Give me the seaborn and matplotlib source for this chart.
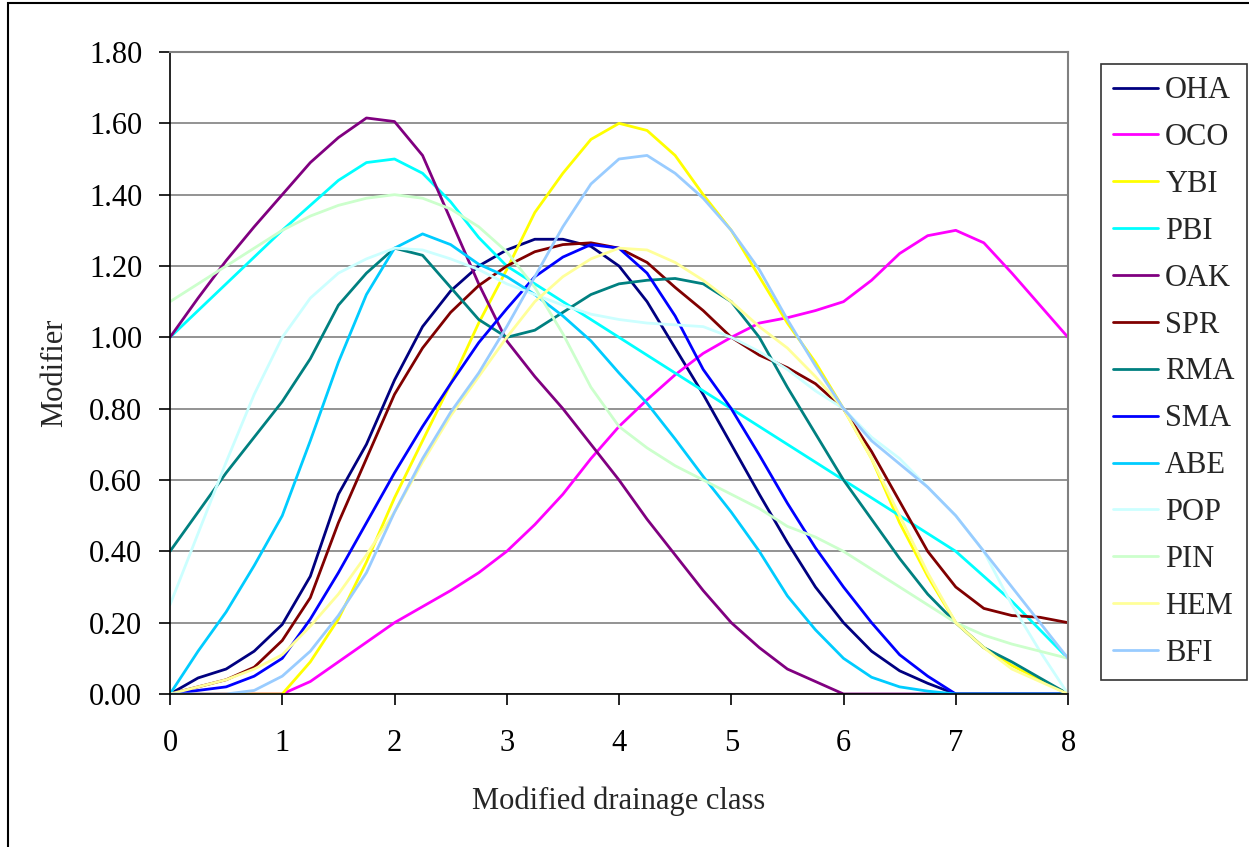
import numpy as np
import pandas as pd
import matplotlib
matplotlib.use("Agg")
import matplotlib.pyplot as plt
import seaborn as sns
from matplotlib.patches import Rectangle

x = [0, 0.25, 0.5, 0.75, 1, 1.25, 1.5, 1.75, 2, 2.25, 2.5, 2.75, 3, 3.25, 3.5, 3.75,
     4, 4.25, 4.5, 4.75, 5, 5.25, 5.5, 5.75, 6, 6.25, 6.5, 6.75, 7, 7.25, 7.5, 7.75, 8]

OHA = [0, 0.045, 0.07, 0.12, 0.195, 0.33, 0.56, 0.70, 0.88, 1.03, 1.13, 1.20, 1.245, 1.275, 1.275, 1.255,
       1.20, 1.10, 0.97, 0.84, 0.70, 0.56, 0.425, 0.30, 0.20, 0.12, 0.065, 0.03, 0, 0, 0, 0, 0]
OCO = [0, 0, 0, 0, 0, 0.035, 0.09, 0.145, 0.20, 0.245, 0.29, 0.34, 0.40, 0.475, 0.56, 0.66,
       0.75, 0.825, 0.895, 0.955, 1.00, 1.04, 1.055, 1.075, 1.10, 1.16, 1.235, 1.285, 1.30, 1.265, 1.18, 1.09, 1.00]
YBI = [0, 0, 0, 0, 0, 0.09, 0.21, 0.37, 0.55, 0.71, 0.87, 1.04, 1.19, 1.35, 1.46, 1.555,
       1.60, 1.58, 1.51, 1.40, 1.30, 1.17, 1.04, 0.93, 0.80, 0.66, 0.48, 0.33, 0.20, 0.13, 0.08, 0.04, 0]
PBI = [1.00, 1.075, 1.15, 1.225, 1.30, 1.37, 1.44, 1.49, 1.50, 1.46, 1.38, 1.28, 1.20, 1.15, 1.10, 1.05,
       1.00, 0.95, 0.90, 0.85, 0.80, 0.75, 0.70, 0.65, 0.60, 0.55, 0.50, 0.45, 0.40, 0.33, 0.26, 0.18, 0.10]
OAK = [1.00, 1.11, 1.215, 1.31, 1.40, 1.49, 1.56, 1.615, 1.605, 1.51, 1.33, 1.15, 0.99, 0.89, 0.80, 0.70,
       0.60, 0.49, 0.39, 0.29, 0.20, 0.13, 0.07, 0.035, 0, 0, 0, 0, 0, 0, 0, 0, 0]
SPR = [0, 0.02, 0.04, 0.075, 0.15, 0.27, 0.48, 0.66, 0.84, 0.97, 1.07, 1.145, 1.20, 1.24, 1.26, 1.265,
       1.25, 1.21, 1.14, 1.075, 1.00, 0.95, 0.915, 0.87, 0.80, 0.68, 0.54, 0.40, 0.30, 0.24, 0.22, 0.215, 0.20]
RMA = [0.40, 0.51, 0.62, 0.72, 0.82, 0.94, 1.09, 1.18, 1.25, 1.23, 1.14, 1.05, 1.00, 1.02, 1.07, 1.12,
       1.15, 1.16, 1.165, 1.15, 1.10, 1.00, 0.86, 0.73, 0.60, 0.49, 0.38, 0.28, 0.20, 0.13, 0.09, 0.045, 0]
SMA = [0, 0.01, 0.02, 0.05, 0.10, 0.21, 0.34, 0.48, 0.62, 0.75, 0.87, 0.985, 1.08, 1.17, 1.225, 1.26,
       1.25, 1.18, 1.06, 0.91, 0.80, 0.67, 0.535, 0.41, 0.30, 0.20, 0.11, 0.05, 0, 0, 0, 0, 0]
ABE = [0, 0.12, 0.23, 0.36, 0.50, 0.71, 0.93, 1.12, 1.25, 1.29, 1.26, 1.205, 1.17, 1.12, 1.06, 0.99,
       0.90, 0.815, 0.715, 0.61, 0.51, 0.40, 0.275, 0.18, 0.10, 0.047, 0.02, 0.008, 0, 0, 0, 0, 0]
POP = [0.25, 0.45, 0.65, 0.84, 1.00, 1.11, 1.18, 1.22, 1.25, 1.245, 1.22, 1.19, 1.15, 1.12, 1.09, 1.065,
       1.05, 1.04, 1.035, 1.03, 1.00, 0.96, 0.91, 0.85, 0.80, 0.72, 0.66, 0.58, 0.50, 0.40, 0.25, 0.12, 0.00]
PIN = [1.10, 1.15, 1.20, 1.25, 1.30, 1.34, 1.37, 1.39, 1.40, 1.39, 1.36, 1.31, 1.24, 1.14, 1.01, 0.86,
       0.75, 0.69, 0.64, 0.60, 0.56, 0.52, 0.47, 0.44, 0.40, 0.35, 0.30, 0.25, 0.20, 0.165, 0.14, 0.12, 0.10]
HEM = [0, 0.02, 0.04, 0.07, 0.11, 0.19, 0.28, 0.39, 0.51, 0.65, 0.78, 0.89, 1.00, 1.10, 1.17, 1.22,
       1.25, 1.245, 1.21, 1.16, 1.10, 1.03, 0.97, 0.89, 0.80, 0.66, 0.50, 0.34, 0.20, 0.13, 0.07, 0.035, 0]
BFI = [0, 0, 0, 0.01, 0.05, 0.12, 0.22, 0.34, 0.51, 0.66, 0.79, 0.90, 1.03, 1.17, 1.31, 1.43,
       1.50, 1.51, 1.46, 1.39, 1.30, 1.19, 1.05, 0.92, 0.80, 0.71, 0.645, 0.58, 0.50, 0.40, 0.30, 0.20, 0.10]

species = ["OHA", "OCO", "YBI", "PBI", "OAK", "SPR", "RMA", "SMA", "ABE", "POP", "PIN", "HEM", "BFI"]
series = [OHA, OCO, YBI, PBI, OAK, SPR, RMA, SMA, ABE, POP, PIN, HEM, BFI]
colors = ["#000080", "#FF00FF", "#FFFF00", "#00FFFF", "#800080", "#800000", "#008080",
          "#0000FF", "#00CCFF", "#CCFFFF", "#CCFFCC", "#FFFF99", "#99CCFF"]

df = pd.concat([pd.DataFrame({"x": x, "y": s, "species": name}) for name, s in zip(species, series)],
               ignore_index=True)

sns.set_style("white")
plt.rcParams["font.family"] = ["Liberation Serif", "DejaVu Serif"]
FS = 22
plt.rcParams["font.size"] = FS

W, H = 1249, 847
fig = plt.figure(figsize=(W / 100, H / 100), dpi=100)
ax = fig.add_axes([170 / W, 1 - 694 / H, (1068 - 170) / W, (694 - 52) / H])

sns.lineplot(data=df, x="x", y="y", hue="species", hue_order=species,
             palette=dict(zip(species, colors)), linewidth=2.0, ax=ax, legend=False,
             sort=False, estimator=None)

ax.set_xlim(0, 8)
ax.set_ylim(0, 1.8)
ax.set_xticks(range(0, 9))
ax.set_yticks(np.arange(0, 1.81, 0.2))
ax.set_yticklabels([f"{v:.2f}" for v in np.arange(0, 1.81, 0.2)])
ax.yaxis.grid(True, color="#808080", linewidth=1.2)
ax.set_axisbelow(True)
for side in ["top", "right"]:
    ax.spines[side].set_visible(True)
    ax.spines[side].set_color("#808080")
    ax.spines[side].set_linewidth(1.5)
for side in ["left", "bottom"]:
    ax.spines[side].set_color("black")
    ax.spines[side].set_linewidth(1.2)
ax.tick_params(axis="both", direction="out", length=8, width=1.2, color="black",
               labelsize=FS, labelcolor="black", left=True, bottom=True)
ax.tick_params(axis="x", pad=17)
ax.tick_params(axis="y", pad=12)
ax.set_xlabel("Modified drainage class", fontsize=FS, labelpad=21)
ax.set_ylabel("Modifier", fontsize=FS, labelpad=14)

handles = [plt.Line2D([], [], color=c, linewidth=2.0) for c in colors]
leg = fig.legend(handles, species, loc="upper left", bbox_to_anchor=(1101 / W, 1 - 64 / H),
                 frameon=True, fancybox=False, shadow=False, fontsize=FS,
                 handlelength=1.45, handletextpad=0.25, labelspacing=0.585, borderpad=0.4,
                 borderaxespad=0)
leg.get_frame().set_edgecolor("black")
leg.get_frame().set_linewidth(1.2)
leg.get_frame().set_facecolor("white")

fig.patches.append(Rectangle((8 / W, -0.1), 2, 1.1 - 3 / H, transform=fig.transFigure,
                             fill=False, edgecolor="black", linewidth=1.5))

fig.savefig("out.png", dpi=100)
